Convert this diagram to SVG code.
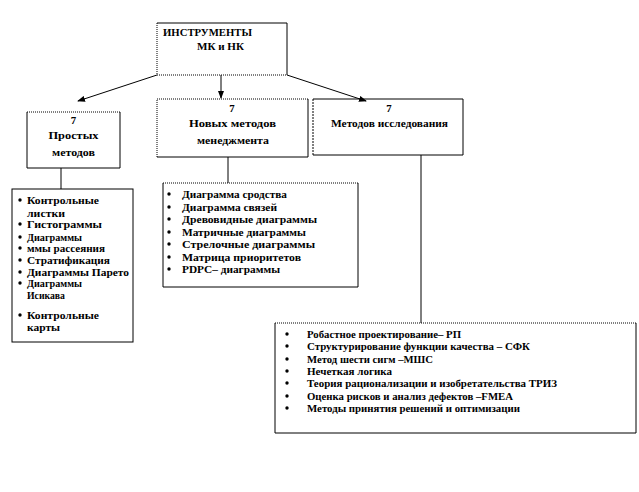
<svg xmlns="http://www.w3.org/2000/svg" width="639" height="492" viewBox="0 0 639 492">
<defs>
<style>
text{font-family:"Liberation Serif","Times New Roman",serif;font-weight:bold;font-size:10.8px;fill:#000}
.c{text-anchor:middle}
.s{stroke:#000;stroke-width:1;fill:none}
.d{stroke:#000;stroke-width:1;fill:none;stroke-dasharray:1,1}
.b{fill:#000}
</style>
<marker id="ah" markerWidth="8" markerHeight="6" refX="7" refY="3" orient="auto" markerUnits="userSpaceOnUse">
<path d="M0,0 L8,3 L0,6 z" fill="#000"/>
</marker>
</defs>
<rect width="639" height="492" fill="#fff"/>
<g id="connectors">
<line class="s" x1="157" y1="75" x2="78" y2="101" marker-end="url(#ah)"/>
<line class="s" x1="221" y1="75" x2="221" y2="98" marker-end="url(#ah)"/>
<line class="s" x1="287" y1="75" x2="366" y2="101" marker-end="url(#ah)"/>
<line class="s" x1="61" y1="168" x2="61" y2="189"/>
<line class="s" x1="228" y1="157" x2="228" y2="183"/>
<line class="s" x1="421" y1="155" x2="421" y2="323"/>
</g>
<g id="top">
<path class="s" d="M157,23 H287 V75"/>
<path class="d" d="M157,23 V75 H287"/>
<text x="163" y="36" textLength="89" lengthAdjust="spacingAndGlyphs">ИНСТРУМЕНТЫ</text>
<text x="197" y="50" textLength="47" lengthAdjust="spacingAndGlyphs">МК и НК</text>
</g>
<g id="box1">
<path class="d" d="M27,112 H120"/>
<path class="s" d="M120,112 V168 H27 V112"/>
<text class="c" x="73.5" y="124">7</text>
<text class="c" x="73.5" y="139" textLength="50" lengthAdjust="spacingAndGlyphs">Простых</text>
<text class="c" x="73.5" y="156" textLength="43" lengthAdjust="spacingAndGlyphs">методов</text>
</g>
<g id="box2">
<path class="d" d="M157,157 V99 H308"/>
<path class="s" d="M308,99 V157 H157"/>
<text class="c" x="232" y="112">7</text>
<text class="c" x="232.5" y="127" textLength="87" lengthAdjust="spacingAndGlyphs">Новых методов</text>
<text class="c" x="233" y="144" textLength="72" lengthAdjust="spacingAndGlyphs">менеджмента</text>
</g>
<g id="box3">
<path class="s" d="M313,99 H463 V155 H313"/>
<path class="s" d="M313,99 V155" stroke-dasharray="2,1"/>
<text class="c" x="389" y="112">7</text>
<text class="c" x="389.5" y="127" textLength="117" lengthAdjust="spacingAndGlyphs">Методов исследования</text>
</g>
<g id="list1">
<rect class="s" x="12" y="189" width="121" height="153"/>
<g class="b">
<circle cx="20" cy="200" r="1.7"/><circle cx="20" cy="224" r="1.7"/><circle cx="20" cy="237" r="1.7"/><circle cx="20" cy="248" r="1.7"/><circle cx="20" cy="260" r="1.7"/><circle cx="20" cy="272" r="1.7"/><circle cx="20" cy="283" r="1.7"/><circle cx="20" cy="315" r="1.7"/>
</g>
<text x="27" y="204" textLength="72" lengthAdjust="spacingAndGlyphs">Контрольные</text>
<text x="27" y="217" textLength="38" lengthAdjust="spacingAndGlyphs">листки</text>
<text x="27" y="228" textLength="75" lengthAdjust="spacingAndGlyphs">Гистограммы</text>
<text x="27" y="241" textLength="55" lengthAdjust="spacingAndGlyphs">Диаграммы</text>
<text x="27" y="252" textLength="78" lengthAdjust="spacingAndGlyphs">ммы рассеяния</text>
<text x="27" y="264" textLength="83" lengthAdjust="spacingAndGlyphs">Стратификация</text>
<text x="27" y="276" textLength="102" lengthAdjust="spacingAndGlyphs">Диаграммы Парето</text>
<text x="27" y="287" textLength="55" lengthAdjust="spacingAndGlyphs">Диаграммы</text>
<text x="27" y="299" textLength="38" lengthAdjust="spacingAndGlyphs">Исикава</text>
<text x="27" y="319" textLength="72" lengthAdjust="spacingAndGlyphs">Контрольные</text>
<text x="27" y="331" textLength="33" lengthAdjust="spacingAndGlyphs">карты</text>
</g>
<g id="list2">
<path class="d" d="M163,183 H358"/>
<path class="s" d="M358,183 V287 H163 V183"/>
<g class="b">
<circle cx="169" cy="194" r="1.7"/><circle cx="169" cy="207" r="1.7"/><circle cx="169" cy="219" r="1.7"/><circle cx="169" cy="232" r="1.7"/><circle cx="169" cy="244" r="1.7"/><circle cx="169" cy="257" r="1.7"/><circle cx="169" cy="269" r="1.7"/>
</g>
<text x="182" y="198" textLength="105" lengthAdjust="spacingAndGlyphs">Диаграмма сродства</text>
<text x="182" y="211" textLength="95" lengthAdjust="spacingAndGlyphs">Диаграмма связей</text>
<text x="182" y="223" textLength="135" lengthAdjust="spacingAndGlyphs">Древовидные диаграммы</text>
<text x="182" y="236" textLength="124" lengthAdjust="spacingAndGlyphs">Матричные диаграммы</text>
<text x="182" y="248" textLength="133" lengthAdjust="spacingAndGlyphs">Стрелочные диаграммы</text>
<text x="182" y="261" textLength="119" lengthAdjust="spacingAndGlyphs">Матрица приоритетов</text>
<text x="182" y="273" textLength="98" lengthAdjust="spacingAndGlyphs">PDPC– диаграммы</text>
</g>
<g id="list3">
<path class="d" d="M275,323 H636"/>
<path class="s" d="M636,323 V433 H275 V323"/>
<g class="b">
<circle cx="287" cy="334" r="1.7"/><circle cx="287" cy="346" r="1.7"/><circle cx="287" cy="359" r="1.7"/><circle cx="287" cy="371" r="1.7"/><circle cx="287" cy="383" r="1.7"/><circle cx="287" cy="396" r="1.7"/><circle cx="287" cy="408" r="1.7"/>
</g>
<text x="307" y="338" textLength="154" lengthAdjust="spacingAndGlyphs">Робастное проектирование– РП</text>
<text x="307" y="350" textLength="223" lengthAdjust="spacingAndGlyphs">Структурирование функции качества – СФК</text>
<text x="307" y="363" textLength="126" lengthAdjust="spacingAndGlyphs">Метод шести сигм –МШС</text>
<text x="307" y="375" textLength="85" lengthAdjust="spacingAndGlyphs">Нечеткая логика</text>
<text x="307" y="387" textLength="250" lengthAdjust="spacingAndGlyphs">Теория рационализации и изобретательства ТРИЗ</text>
<text x="307" y="400" textLength="206" lengthAdjust="spacingAndGlyphs">Оценка рисков и анализ дефектов –FMEA</text>
<text x="307" y="412" textLength="213" lengthAdjust="spacingAndGlyphs">Методы принятия решений и оптимизации</text>
</g>
</svg>
